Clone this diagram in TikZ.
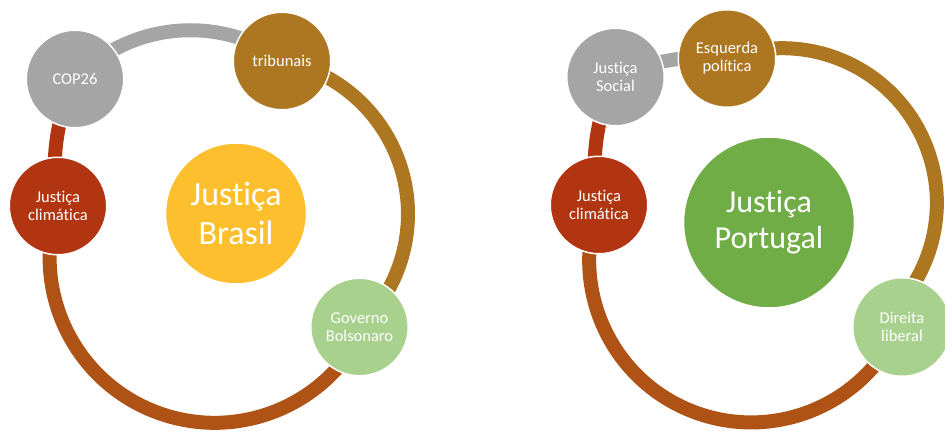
\documentclass[tikz,border=0pt]{standalone}
\usepackage{fontspec}
\setmainfont{Carlito}[Ligatures=NoCommon]
\definecolor{cgray}{HTML}{A5A5A5}
\definecolor{cbrown}{HTML}{AD7722}
\definecolor{cred}{HTML}{B23512}
\definecolor{corange}{HTML}{AE5215}
\definecolor{cyellow}{HTML}{FDBF2E}
\definecolor{cgreen}{HTML}{70AD47}
\definecolor{clgreen}{HTML}{A9D18E}
\tikzset{
  bub/.style={circle, draw=white, line width=1.5pt, minimum size=97.5pt, inner sep=0pt,
    text=white, align=center, font=\fontsize{16.5}{18}\selectfont},
  hub/.style={circle, draw=white, line width=1.5pt, inner sep=0pt, text=white, align=center},
  ring/.style={line width=14pt},
}
\begin{document}
\begin{tikzpicture}[x=1pt,y=-1pt]
\useasboundingbox (0,0) rectangle (945,431);
\clip (0,0) rectangle (945,431);
% ---------- node centres ----------
\path
  (75,79)   coordinate (cop)
  (282,61)  coordinate (trib)
  (58,206)  coordinate (clima)
  (236,213.5) coordinate (bras)
  (359.5,327) coordinate (gov)
  (615.5,77) coordinate (soc)
  (727,58.5) coordinate (esq)
  (599,205) coordinate (climb)
  (769,222.5) coordinate (port)
  (902,327) coordinate (dir);
% ---------- arcs (left) ----------
\draw[ring, cgray]   (cop)   arc[start angle=135.8, end angle=54.7,  radius=161pt];
\draw[ring, cbrown]  (trib)  arc[start angle=78.9,  end angle=-46.6, radius=156pt];
\draw[ring, corange] (clima) arc[start angle=-198.3,end angle=-25.6, radius=165pt];
\draw[ring, cred]    (cop)   arc[start angle=-205.7,end angle=-169.3,radius=205.5pt];
% ---------- arcs (right) ----------
\draw[ring, cgray]   (soc)   arc[start angle=114.6, end angle=84.6,  radius=219pt];
\draw[ring, cbrown]  (esq)   arc[start angle=111,   end angle=-45.7, radius=154.5pt];
\draw[ring, corange] (climb) arc[start angle=-200,  end angle=-23.9, radius=162pt];
\draw[ring, cred]    (soc)   arc[start angle=-206.1,end angle=-169.6,radius=205pt];
% ---------- nodes (left) ----------
\node[bub, fill=cgray]   (ncop)   at (cop)   {COP26};
\node[bub, fill=cbrown]  (ntrib)  at (trib)  {tribunais};
\node[bub, fill=cred]    (nclima) at (clima) {Justiça\\climática};
\node[bub, fill=clgreen] (ngov)   at (gov)   {Governo\\Bolsonaro};
\node[hub, fill=cyellow, minimum size=141pt, font=\fontsize{34}{39.5}\selectfont] (nbras) at (bras) {Justiça\\Brasil};
% ---------- nodes (right) ----------
\node[bub, fill=cgray]   (nsoc)   at (soc)   {Justiça\\Social};
\node[bub, fill=cbrown]  (nesq)   at (esq)   {Esquerda\\política};
\node[bub, fill=cred]    (nclimb) at (climb) {Justiça\\climática};
\node[bub, fill=clgreen, minimum size=98.5pt] (ndir) at (dir) {Direita\\liberal};
\node[hub, fill=cgreen, minimum size=171pt, font=\fontsize{32}{36}\selectfont] (nport) at (port) {Justiça\\Portugal};
\end{tikzpicture}
\end{document}
